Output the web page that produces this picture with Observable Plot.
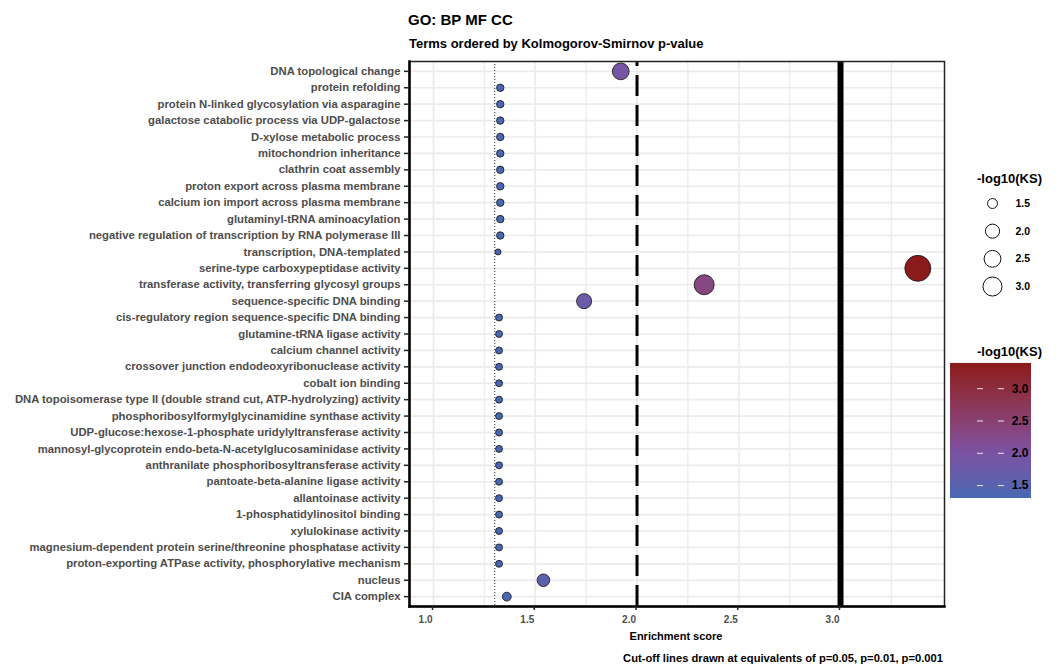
<!DOCTYPE html>
<html><head><meta charset="utf-8">
<script src="https://cdn.jsdelivr.net/npm/d3@7"></script>
<script src="https://cdn.jsdelivr.net/npm/@observablehq/plot@0.6"></script>
<style>
body{margin:0;background:#fff;}
#wrap{position:relative;width:1059px;height:667px;font-family:"Liberation Sans",Arial,sans-serif;font-weight:bold;overflow:hidden;}
.abs{position:absolute;white-space:nowrap;line-height:normal;}
.abs svg{display:block;}
</style></head><body>
<div id="wrap">
  <div id="chart" class="abs" style="left:0;top:0"></div>
  <div class="abs" style="left:408px;top:11px;font-size:15px;color:#000">GO: BP MF CC</div>
  <div class="abs" style="left:409px;top:36px;font-size:13px;color:#000">Terms ordered by Kolmogorov-Smirnov p-value</div>
  <div class="abs" style="left:676px;top:630px;font-size:11px;color:#000;transform:translateX(-50%)">Enrichment score</div>
  <div class="abs" style="right:116px;top:652px;font-size:11.2px;color:#000">Cut-off lines drawn at equivalents of p=0.05, p=0.01, p=0.001</div>
  <div class="abs" style="left:977px;top:171px;font-size:13px;color:#000">-log10(KS)</div>
  <div id="sizeLegend" class="abs" style="left:960px;top:190px"></div>
  <div class="abs" style="left:977px;top:344px;font-size:13px;color:#000">-log10(KS)</div>
  <div id="colorLegend" class="abs" style="left:950px;top:363px"></div>
</div>
<script>
const terms = [
  "DNA topological change",
  "protein refolding",
  "protein N-linked glycosylation via asparagine",
  "galactose catabolic process via UDP-galactose",
  "D-xylose metabolic process",
  "mitochondrion inheritance",
  "clathrin coat assembly",
  "proton export across plasma membrane",
  "calcium ion import across plasma membrane",
  "glutaminyl-tRNA aminoacylation",
  "negative regulation of transcription by RNA polymerase III",
  "transcription, DNA-templated",
  "serine-type carboxypeptidase activity",
  "transferase activity, transferring glycosyl groups",
  "sequence-specific DNA binding",
  "cis-regulatory region sequence-specific DNA binding",
  "glutamine-tRNA ligase activity",
  "calcium channel activity",
  "crossover junction endodeoxyribonuclease activity",
  "cobalt ion binding",
  "DNA topoisomerase type II (double strand cut, ATP-hydrolyzing) activity",
  "phosphoribosylformylglycinamidine synthase activity",
  "UDP-glucose:hexose-1-phosphate uridylyltransferase activity",
  "mannosyl-glycoprotein endo-beta-N-acetylglucosaminidase activity",
  "anthranilate phosphoribosyltransferase activity",
  "pantoate-beta-alanine ligase activity",
  "allantoinase activity",
  "1-phosphatidylinositol binding",
  "xylulokinase activity",
  "magnesium-dependent protein serine/threonine phosphatase activity",
  "proton-exporting ATPase activity, phosphorylative mechanism",
  "nucleus",
  "CIA complex"
];
const scores = [
  1.92,
  1.328, 1.328, 1.328, 1.328, 1.328, 1.328, 1.328, 1.328, 1.328, 1.328,
  1.317,
  3.38,
  2.33,
  1.74,
  1.322, 1.322, 1.322, 1.322, 1.322, 1.322, 1.322, 1.322, 1.322,
  1.322, 1.322, 1.322, 1.322, 1.322, 1.322, 1.322,
  1.54,
  1.36
];
const cutoffs = [1.301, 2, 3];
const xTicks = [1, 1.5, 2, 2.5, 3];
const xMinor = [1.25, 1.75, 2.25, 2.75, 3.25];
const xDomain = [0.882, 3.511];
const sizeBreaks = [1.5, 2, 2.5, 3];
const colorTicks = [1.5, 2, 2.5, 3];
const colorDomain = [1.30, 2.0, 3.39];
const colorRange = ["#4668b3", "#7b52a3", "#8b1a1a"];

const data = terms.map((t, i) => ({term: t, score: scores[i]}));
const minS = d3.min(scores), maxS = d3.max(scores);
const colorScale = {type: "linear", domain: colorDomain, range: colorRange, interpolate: "lab"};
const font = "Liberation Sans, Arial, sans-serif";

const main = Plot.plot({
  width: 1059, height: 667,
  marginLeft: 409, marginRight: 115, marginTop: 61, marginBottom: 61,
  style: {fontFamily: font, background: "transparent"},
  x: {domain: xDomain},
  y: {type: "point", domain: terms, padding: 0.6, round: false},
  r: {type: "sqrt", domain: [0, maxS - minS], range: [3, 13]},
  color: colorScale,
  marks: [
    Plot.ruleX(xMinor, {stroke: "#ebebeb", strokeWidth: 1.3}),
    Plot.ruleX(xTicks, {stroke: "#ebebeb", strokeWidth: 1.7}),
    Plot.ruleY(terms, {stroke: "#ebebeb", strokeWidth: 1.7}),
    Plot.ruleX([cutoffs[0]], {stroke: "#333", strokeWidth: 1, strokeDasharray: "1,2"}),
    Plot.ruleX([cutoffs[1]], {stroke: "#000", strokeWidth: 3, strokeDasharray: "21,9", strokeDashoffset: 16}),
    Plot.ruleX([cutoffs[2]], {stroke: "#000", strokeWidth: 6}),
    Plot.dot(data, {x: "score", y: "term", r: d => d.score - minS, fill: "score", stroke: "#111", strokeWidth: 0.8}),
    Plot.frame({stroke: "#222", strokeWidth: 1.5}),
    Plot.frame({anchor: "left", stroke: "#000", strokeWidth: 2.5}),
    Plot.frame({anchor: "bottom", stroke: "#000", strokeWidth: 2.5}),
    Plot.axisY({tickSize: 5, tickPadding: 4, fontSize: 11.3, fontWeight: "bold", fill: "#4d4d4d", stroke: "#222", strokeWidth: 1.5, label: null}),
    Plot.axisX({ticks: xTicks, tickFormat: d3.format(".1f"), tickSize: 4, tickPadding: 5, fontSize: 10, fontWeight: "bold", fill: "#4d4d4d", stroke: "#222", strokeWidth: 1.5, textAnchor: "end", dx: -1, label: null})
  ]
});
document.getElementById("chart").append(main);

const sizeLegend = Plot.plot({
  width: 90, height: 110, marginLeft: 0, marginRight: 0, marginTop: 13, marginBottom: 14,
  style: {fontFamily: font, background: "transparent", overflow: "visible"},
  x: {domain: [0, 1], range: [32, 55], axis: null},
  y: {type: "point", domain: sizeBreaks, padding: 0, round: false, axis: null},
  r: {type: "sqrt", domain: [0, maxS - minS], range: [2.75, 10.25]},
  marks: [
    Plot.dot(sizeBreaks, {x: () => 0, y: d => d, r: d => d - minS, fill: "white", stroke: "#111", strokeWidth: 1}),
    Plot.text(sizeBreaks, {x: () => 1, y: d => d, text: d => d.toFixed(1), textAnchor: "start", fontSize: 10.5, fontWeight: "bold", fill: "#000"})
  ]
});
document.getElementById("sizeLegend").append(sizeLegend);

const barLo = colorDomain[0], barHi = colorDomain[colorDomain.length - 1];
const barStops = d3.range(0, 135).map(i => barLo + (barHi - barLo) * i / 135);
const barStep = (barHi - barLo) / 135;
const colorLegend = Plot.plot({
  width: 81, height: 135, margin: 0,
  style: {fontFamily: font, background: "transparent", overflow: "visible"},
  x: {type: "identity", axis: null},
  y: {domain: [barLo, barHi], range: [135, 0], axis: null},
  color: colorScale,
  marks: [
    Plot.rect(barStops, {x1: 0, x2: 81, y1: d => d, y2: d => d + barStep * 1.05, fill: d => d + barStep / 2}),
    Plot.ruleY(colorTicks, {x1: 27, x2: 33, stroke: "white", strokeOpacity: 0.85, strokeWidth: 1}),
    Plot.ruleY(colorTicks, {x1: 48, x2: 54, stroke: "white", strokeOpacity: 0.85, strokeWidth: 1}),
    Plot.text(colorTicks, {x: () => 78, y: d => d, text: d => d.toFixed(1), textAnchor: "end", fontSize: 12, fontWeight: "bold", fill: "#000"})
  ]
});
document.getElementById("colorLegend").append(colorLegend);
</script>
</body></html>
